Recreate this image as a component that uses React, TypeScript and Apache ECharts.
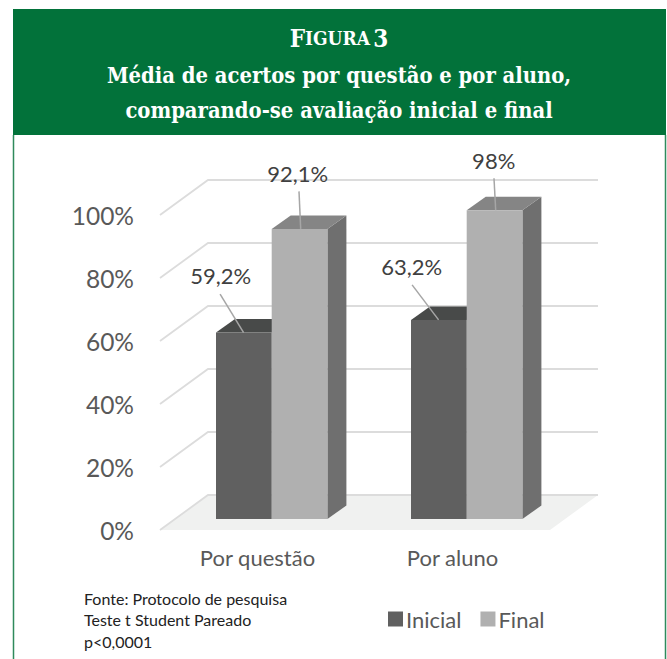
import React, { useEffect, useRef } from "react";
import * as echarts from "echarts";

const categories = ["Por questão", "Por aluno"];
const inicialValues = [59.2, 63.2];
const finalValues = [92.1, 98];
const yTicks = [0, 20, 40, 60, 80, 100];
const sourceLines = ["Fonte: Protocolo de pesquisa", "Teste t Student Pareado", "p<0,0001"];

const GREEN = "#02723a";
const SANS = "Lato, 'Open Sans', sans-serif";
const SERIF = "'DejaVu Serif Condensed', 'DejaVu Serif', serif";

// Perspective offsets: chart walls run back by WALL_*, each bar has BAR_* of depth.
const WALL_DX = 48;
const WALL_DY = 35;
const BAR_DX = 19;
const BAR_DY = 13.5;
const BAR_BAND = 55.7 / 195;

// Leader line and label placement relative to the top of each bar: [lineStart, lineEnd, text]
const inicialCallouts = [
  { from: [-23.5, -38.5], to: [0, 0], text: [-23, -57] },
  { from: [-26.5, -35], to: [0, 0], text: [-27, -53.5] },
];
const finalCallouts = [
  { from: [-1.7, -37.5], to: [0, 0], text: [-3, -55.5] },
  { from: [-1.7, -32], to: [0, 0], text: [-2, -49.5] },
];

const fmt = (v: number) => String(v).replace(".", ",") + "%";

function barItem(side: number, front: string, top: string, flank: string, callouts: any[], anchorDx: number) {
  return (params: any, api: any) => {
    const i = api.value(0);
    const v = api.value(1);
    const w = api.size([1, 0])[0] * BAR_BAND;
    const [cx, yTop] = api.coord([i, v]);
    const [, yBase] = api.coord([i, 0]);
    const x0 = side < 0 ? cx - w : cx;
    const x1 = x0 + w;
    const c = callouts[i];
    const ax = x0 + anchorDx;
    return {
      type: "group",
      children: [
        {
          type: "polygon",
          shape: { points: [[x1, yTop], [x1 + BAR_DX, yTop - BAR_DY], [x1 + BAR_DX, yBase - BAR_DY], [x1, yBase]] },
          style: { fill: flank },
        },
        {
          type: "polygon",
          shape: { points: [[x0, yTop], [x0 + BAR_DX, yTop - BAR_DY], [x1 + BAR_DX, yTop - BAR_DY], [x1, yTop]] },
          style: { fill: top },
        },
        { type: "rect", shape: { x: x0, y: yTop, width: w, height: yBase - yTop }, style: { fill: front } },
        {
          type: "line",
          shape: { x1: ax + c.from[0], y1: yTop + c.from[1], x2: ax + c.to[0], y2: yTop + c.to[1] },
          style: { stroke: "#a6a6a6", lineWidth: 1.5 },
        },
        {
          type: "text",
          x: ax + c.text[0],
          y: yTop + c.text[1],
          style: {
            text: fmt(v),
            fill: "#404040",
            font: `22px ${SANS}`,
            textAlign: "center",
            textVerticalAlign: "middle",
          },
        },
      ],
    };
  };
}

function wallItem(params: any, api: any) {
  const v = api.value(0);
  const [, y] = api.coord([0, v]);
  const left = params.coordSys.x;
  const right = left + params.coordSys.width;
  const line = { stroke: "#dcdcdc", lineWidth: 1.8, fill: "none" };
  const children: any[] = [];
  if (v === 0) {
    children.push({
      type: "polygon",
      shape: {
        points: [[left, y], [left + WALL_DX, y - WALL_DY], [right + WALL_DX, y - WALL_DY], [right, y]],
      },
      style: { fill: "#f0f1f0" },
    });
  }
  children.push({
    type: "polyline",
    shape: { points: [[left, y], [left + WALL_DX, y - WALL_DY], [right + WALL_DX, y - WALL_DY]] },
    style: line,
  });
  return { type: "group", children };
}

export default function App() {
  const ref = useRef<HTMLDivElement>(null);

  useEffect(() => {
    const chart = echarts.init(ref.current!, null, { renderer: "svg" });
    chart.setOption({
      animation: false,
      backgroundColor: "#ffffff",
      grid: [
        // Front plane of the chart box: carries the tick and category labels.
        { left: 160, width: 390, top: 215, height: 315 },
        // Plane of the bars, set back from the front of the floor.
        { left: 174.2, width: 390, top: 204, height: 315 },
      ],
      xAxis: [
        {
          type: "category",
          gridIndex: 0,
          data: categories,
          axisLine: { show: false },
          axisTick: { show: false },
          axisLabel: { fontFamily: SANS, fontSize: 22, color: "#595959", margin: 16 },
        },
        { type: "category", gridIndex: 1, data: categories, show: false },
      ],
      yAxis: [
        {
          type: "value",
          gridIndex: 0,
          min: 0,
          max: 100,
          interval: 20,
          splitLine: { show: false },
          axisLine: { show: false },
          axisTick: { show: false },
          axisLabel: {
            fontFamily: SANS,
            fontSize: 24.5,
            color: "#595959",
            margin: 26,
            padding: [0, 0, 4, 0],
            formatter: "{value}%",
          },
        },
        { type: "value", gridIndex: 1, min: 0, max: 100, show: false },
      ],
      legend: {
        data: ["Inicial", "Final"],
        left: 388,
        top: 608,
        padding: 0,
        icon: "rect",
        itemWidth: 15,
        itemHeight: 15,
        itemGap: 19,
        selectedMode: false,
        textStyle: { fontFamily: SANS, fontSize: 22, color: "#595959", padding: [0, 0, 0, -2] },
      },
      series: [
        {
          type: "custom",
          name: "walls",
          xAxisIndex: 0,
          yAxisIndex: 0,
          silent: true,
          data: yTicks.map((t) => [t]),
          encode: { y: 0 },
          renderItem: wallItem,
        },
        {
          type: "custom",
          name: "Inicial",
          xAxisIndex: 1,
          yAxisIndex: 1,
          itemStyle: { color: "#606060" },
          data: inicialValues.map((v, i) => [i, v]),
          encode: { x: 0, y: 1 },
          renderItem: barItem(-1, "#606060", "#484a49", "#484a49", inicialCallouts, 27.6),
        },
        {
          type: "custom",
          name: "Final",
          xAxisIndex: 1,
          yAxisIndex: 1,
          itemStyle: { color: "#b0b0b0" },
          data: finalValues.map((v, i) => [i, v]),
          encode: { x: 0, y: 1 },
          renderItem: barItem(1, "#b0b0b0", "#858585", "#6f6f6f", finalCallouts, 29),
        },
      ],
      graphic: [
        { type: "rect", shape: { x: 13, y: 9, width: 653, height: 126 }, style: { fill: GREEN }, z: 10 },
        { type: "line", shape: { x1: 13.5, y1: 135, x2: 13.5, y2: 659 }, style: { stroke: "#2f8a5c", lineWidth: 1.5 }, z: 10 },
        { type: "line", shape: { x1: 665.5, y1: 135, x2: 665.5, y2: 659 }, style: { stroke: "#2f8a5c", lineWidth: 1.5 }, z: 10 },
        {
          type: "text",
          x: 339,
          y: 38,
          z: 11,
          style: {
            text: "{cap|F}{small|IGURA} {cap|3}",
            textAlign: "center",
            textVerticalAlign: "middle",
            fill: "#ffffff",
            rich: {
              cap: { font: `bold 24px ${SERIF}`, fill: "#ffffff" },
              small: { font: `bold 19px ${SERIF}`, fill: "#ffffff" },
            },
          },
        },
        {
          type: "text",
          x: 339,
          y: 75,
          z: 11,
          style: {
            text: "Média de acertos por questão e por aluno,",
            font: `bold 21.8px ${SERIF}`,
            fill: "#ffffff",
            textAlign: "center",
            textVerticalAlign: "middle",
          },
        },
        {
          type: "text",
          x: 339,
          y: 110,
          z: 11,
          style: {
            text: "comparando-se avaliação inicial e final",
            font: `bold 21.8px ${SERIF}`,
            fill: "#ffffff",
            textAlign: "center",
            textVerticalAlign: "middle",
          },
        },
        ...sourceLines.map((t, i) => ({
          type: "text",
          x: 84,
          y: 598 + i * 21.5,
          z: 11,
          style: { text: t, font: `16px ${SANS}`, fill: "#222222", textVerticalAlign: "middle" },
        })),
      ],
    });
    return () => chart.dispose();
  }, []);

  return (
    <div
      ref={ref}
      style={{ position: "absolute", left: 0, top: 0, width: 667, height: 659, overflow: "hidden" }}
    />
  );
}
